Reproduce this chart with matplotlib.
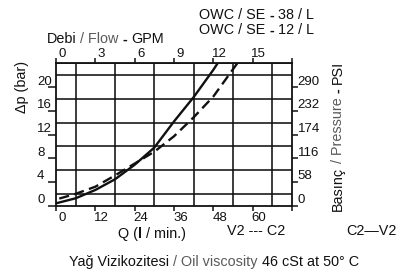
import numpy as np
import matplotlib
matplotlib.use("Agg")
import matplotlib.pyplot as plt

plt.rcParams['font.family'] = ['Liberation Sans', 'DejaVu Sans']

# flow (l/min) vs pressure drop (bar)
q_solid = [0, 6, 12, 18, 24, 30, 36, 42, 48, 49.3]
dp_solid = [0.4, 1.25, 2.65, 4.45, 6.9, 9.8, 14.2, 18.3, 22.9, 24.0]
q_dash = [1, 6, 12, 18, 24, 30, 36, 42, 48, 54, 55.3]
dp_dash = [1.2, 2.0, 3.2, 5.1, 7.1, 9.1, 11.7, 14.9, 18.4, 23.0, 24.0]

lpm_ticks = [0, 12, 24, 36, 48, 60]
gpm_ticks = [0, 3, 6, 9, 12, 15]
bar_ticks = [0, 4, 8, 12, 16, 20]
psi_ticks = [0, 58, 116, 174, 232, 290]

W, H = 403, 277
K = 0.72          # points per pixel at dpi 100
FS = 10.4
TFS = 9.5
BLACK = '#111111'
GRAY = '#5a5a5a'

fig = plt.figure(figsize=(W / 100, H / 100), dpi=100)
ax = fig.add_axes([56 / W, 1 - 205.7 / H, 236 / W, 142.4 / H])
ax.set_xlim(0, 72)
ax.set_ylim(0, 24)

# grid
ax.set_xticks(np.arange(0, 73, 6), minor=True)
ax.set_yticks(np.arange(0, 25, 2), minor=True)
ax.grid(which='minor', color=BLACK, lw=1.15)
ax.tick_params(which='minor', length=0)
ax.set_xticks(np.arange(0, 73, 12))
ax.set_yticks(bar_ticks)
ax.tick_params(which='major', direction='out', color=BLACK, width=1.1,
               labelbottom=False, labelleft=False)
ax.tick_params(axis='x', length=5 * K)
ax.tick_params(axis='y', length=8 * K)
for s in ax.spines.values():
    s.set_linewidth(1.3)
    s.set_color(BLACK)

ax.plot(q_solid, dp_solid, color=BLACK, lw=1.7, solid_capstyle='butt')
ax.plot(q_dash, dp_dash, color=BLACK, lw=1.7, dashes=(4.3, 2.3))

# top GPM axis
ax_t = ax.twiny()
ax_t.set_xlim(0, 18)
ax_t.set_xticks(np.arange(0, 19, 3))
ax_t.tick_params(axis='x', direction='out', length=5 * K, width=1.1,
                 color=BLACK, labeltop=False)
for s in ax_t.spines.values():
    s.set_visible(False)

# right PSI axis
ax_r = ax.twinx()
ax_r.set_ylim(0, 24 * 14.5)
ax_r.set_yticks(psi_ticks)
ax_r.tick_params(axis='y', direction='out', length=5.5 * K, width=1.1,
                 color=BLACK, labelright=False)
for s in ax_r.spines.values():
    s.set_visible(False)

for v in bar_ticks:
    ax.annotate(str(v), xy=(0, v), xycoords=('axes fraction', 'data'),
                xytext=(-19 * K, 2.5 * K), textcoords='offset points',
                ha='left', va='baseline', fontsize=TFS, color=BLACK)
for v in psi_ticks:
    ax_r.annotate(str(v), xy=(1, v), xycoords=('axes fraction', 'data'),
                  xytext=(5.5 * K, 2.5 * K), textcoords='offset points',
                  ha='left', va='baseline', fontsize=TFS, color=BLACK)
for v in gpm_ticks:
    ax_t.annotate(str(v), xy=(v, 1), xycoords=('data', 'axes fraction'),
                  xytext=(6 * K, 6 * K), textcoords='offset points',
                  ha='center', va='baseline', fontsize=TFS, color=BLACK)
for v in lpm_ticks:
    ax.annotate(str(v), xy=(v, 0), xycoords=('data', 'axes fraction'),
                xytext=(6.5 * K, -15.5 * K), textcoords='offset points',
                ha='center', va='baseline', fontsize=TFS, color=BLACK)

renderer = fig.canvas.get_renderer()


def text_width(s, weight):
    t = fig.text(0, 0, s, fontsize=FS, weight=weight)
    w = t.get_window_extent(renderer).width
    t.remove()
    return w


SPACE = text_width('x x', 'normal') - text_width('xx', 'normal')


def rich(x, y, pieces, rot=0):
    # x, y: baseline start in pixels from top-left
    for s, color, weight in pieces:
        lead = len(s) - len(s.lstrip(' '))
        trail = len(s) - len(s.rstrip(' '))
        core = s.strip(' ')
        if rot == 0:
            x += lead * SPACE
        else:
            y -= lead * SPACE
        fig.text(x / W, 1 - y / H, core, color=color, weight=weight,
                 fontsize=FS, ha='left', va='baseline', rotation=rot,
                 rotation_mode='anchor')
        adv = text_width(core, weight) + trail * SPACE
        if rot == 0:
            x += adv
        else:
            y -= adv


rich(46.7, 43.3, [('Debi ', BLACK, 'normal'), ('/ Flow ', GRAY, 'normal'),
                  ('- ', BLACK, 'bold'), ('GPM', BLACK, 'normal')])
rich(199.3, 19.3, [('OWC / SE ', BLACK, 'normal'), ('- ', BLACK, 'bold'),
                   ('38 / L', BLACK, 'normal')])
rich(199.3, 34.3, [('OWC / SE ', BLACK, 'normal'), ('- ', BLACK, 'bold'),
                   ('12 / L', BLACK, 'normal')])
rich(117.7, 238, [('Q (', BLACK, 'normal'), ('l', BLACK, 'bold'),
                  (' / min.)', BLACK, 'normal')])
rich(227.3, 235, [('V2 --- C2', BLACK, 'normal')])
rich(346, 235, [('C2\u2014V2', BLACK, 'normal')])
rich(69.3, 266.2, [('Yağ Vizikozitesi ', BLACK, 'normal'),
                   ('/ Oil viscosity ', GRAY, 'normal'),
                   ('46 cSt at 50° C', BLACK, 'normal')])
rich(342, 211, [('Basınç ', BLACK, 'normal'), ('/ Pressure ', GRAY, 'normal'),
                ('- ', BLACK, 'bold'), ('PSI', BLACK, 'normal')], rot=90)
fig.text(22 / W, 1 - 87 / H, 'Δp (bar)', fontsize=FS, color=BLACK,
         rotation=90, ha='center', va='center')

fig.savefig('out.png', dpi=100)
